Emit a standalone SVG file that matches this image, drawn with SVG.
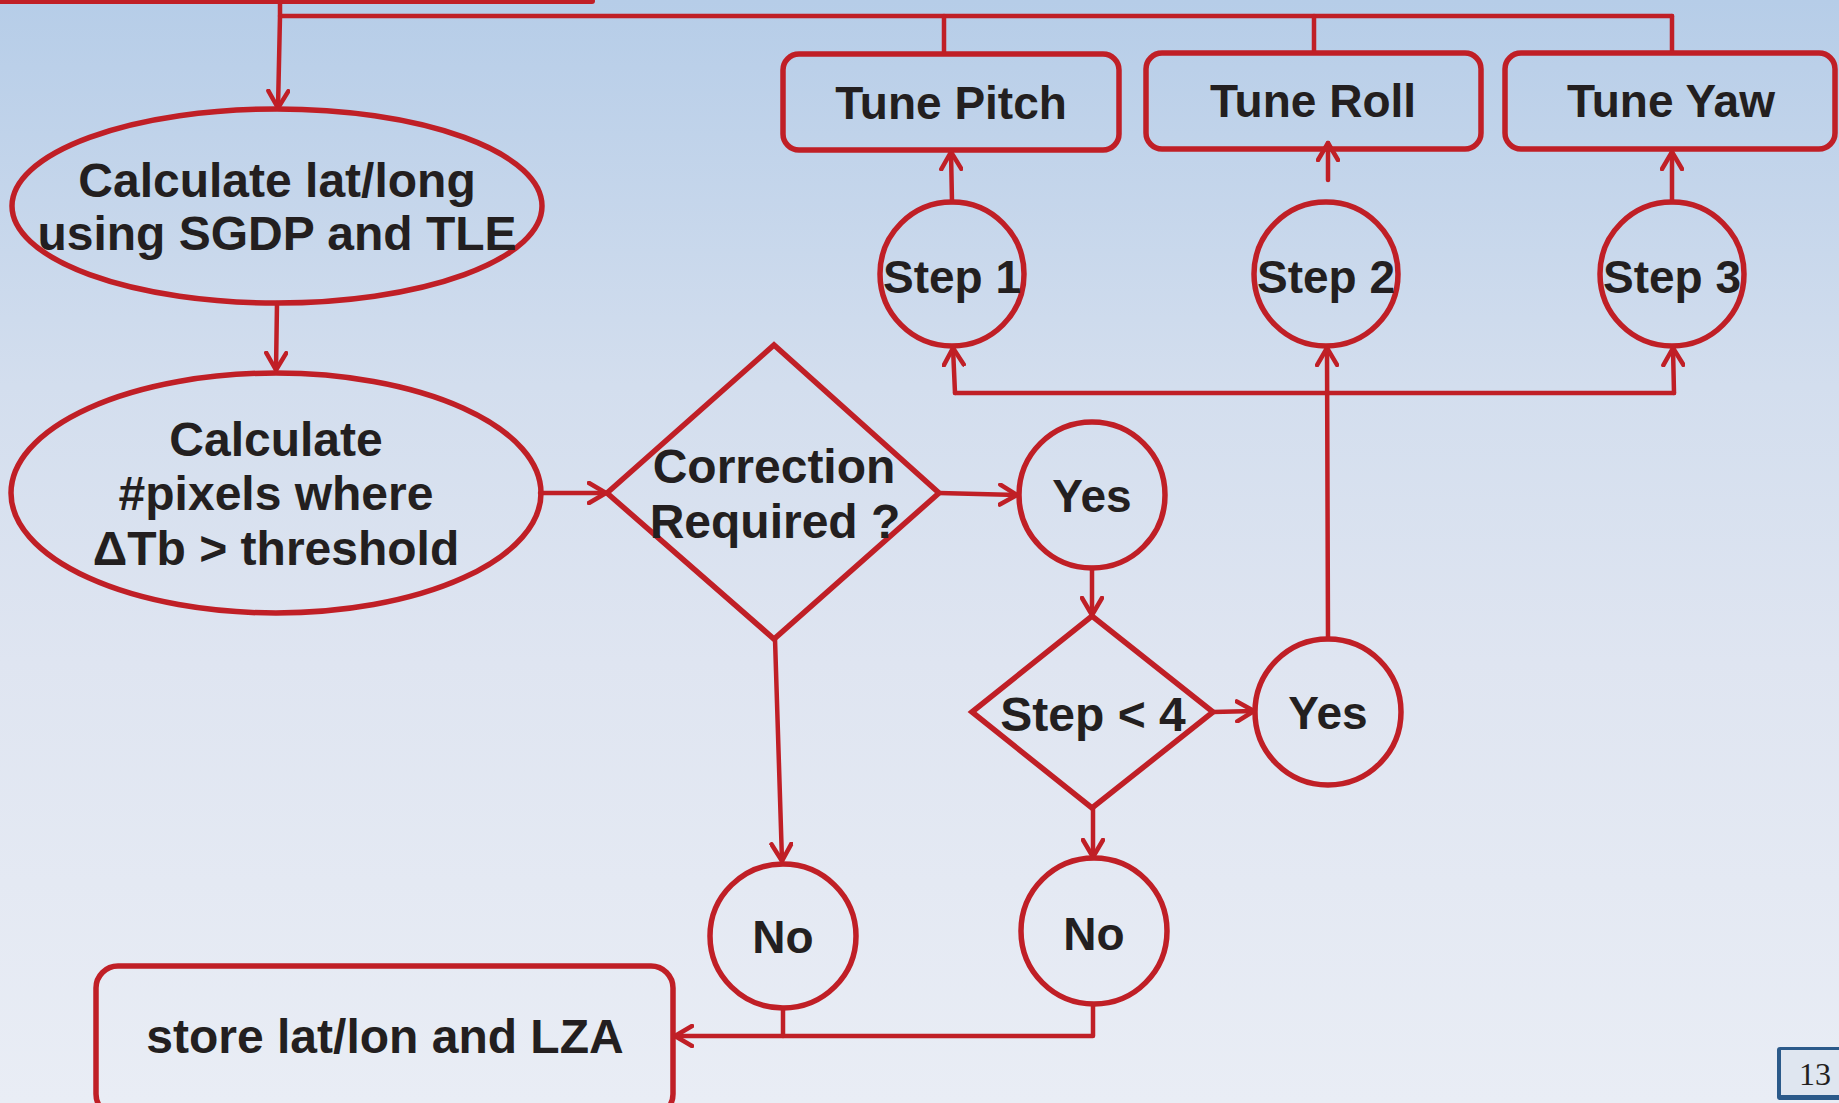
<svg xmlns="http://www.w3.org/2000/svg" width="1839" height="1103" viewBox="0 0 1839 1103">
  <defs>
    <linearGradient id="bg" x1="0" y1="0" x2="0" y2="1">
      <stop offset="0" stop-color="#b6cde8"/>
      <stop offset="0.35" stop-color="#d3deee"/>
      <stop offset="0.6" stop-color="#dfe5f1"/>
      <stop offset="1" stop-color="#e9edf5"/>
    </linearGradient>
    <marker id="arrow" viewBox="0 0 22 24" refX="19" refY="12" markerWidth="22" markerHeight="24" markerUnits="userSpaceOnUse" orient="auto">
      <path d="M2,2 L19,12 L2,22" fill="none" stroke="#c01f26" stroke-width="4.5" stroke-linecap="round" stroke-linejoin="round"/>
    </marker>
    <style>
      .shape { fill: none; stroke: #c01f26; stroke-width: 5.5; }
      .wire { fill: none; stroke: #c01f26; stroke-width: 4.5; stroke-linecap: round; stroke-linejoin: round; }
      .arr { marker-end: url(#arrow); }
      .lbl { font-family: "Liberation Sans", Arial, sans-serif; font-weight: bold; fill: #231f20; text-anchor: middle; }
      .big { font-size: 48px; }
      .small { font-size: 46px; }
    </style>
  </defs>

  <!-- background -->
  <rect x="0" y="0" width="1839" height="1103" fill="url(#bg)"/>

  <!-- connectors -->
  <g id="connectors">
    <!-- feed from above -->
    <line x1="0" y1="1" x2="592" y2="1" stroke="#c01f26" stroke-width="6" stroke-linecap="round"/>
    <path class="wire" d="M280,0 L280,16 L1672,16"/>
    <path class="wire arr" d="M280,16 L278,108"/>
    <line class="wire" x1="944" y1="16" x2="944" y2="53"/>
    <line class="wire" x1="1314" y1="16" x2="1314" y2="52"/>
    <line class="wire" x1="1672" y1="16" x2="1672" y2="52"/>

    <!-- main chain -->
    <path class="wire arr" d="M277,303 L276,370"/>
    <path class="wire arr" d="M540,493 L606,493"/>
    <path class="wire arr" d="M939,493 L1017,495"/>
    <path class="wire arr" d="M1092,568 L1092,615"/>
    <path class="wire arr" d="M1213,712 L1254,711"/>
    <path class="wire arr" d="M775,639 L782,861"/>
    <path class="wire arr" d="M1093,808 L1093,857"/>

    <!-- Yes loop back to the steps -->
    <path class="wire arr" d="M1328,639 L1327,348"/>
    <path class="wire" d="M955,393 L1674,393"/>
    <path class="wire arr" d="M955,393 L953,348"/>
    <path class="wire arr" d="M1674,393 L1673,348"/>

    <!-- steps up to tuning boxes -->
    <path class="wire arr" d="M952,202 L951,152"/>
    <path class="wire arr" d="M1328,180 L1328,143"/>
    <path class="wire arr" d="M1672,202 L1672,152"/>

    <!-- No branches to store -->
    <path class="wire" d="M783,1008 L783,1036"/>
    <path class="wire arr" d="M1093,1005 L1093,1036 L675,1036"/>
  </g>

  <!-- nodes -->
  <g id="calc-latlong">
    <ellipse class="shape" cx="277" cy="206" rx="265" ry="97"/>
    <text class="lbl big" x="277" y="197">Calculate lat/long</text>
    <text class="lbl big" x="277" y="250">using SGDP and TLE</text>
  </g>

  <g id="calc-pixels">
    <ellipse class="shape" cx="276" cy="493" rx="265" ry="120"/>
    <text class="lbl big" x="276" y="456">Calculate</text>
    <text class="lbl big" x="276" y="510">#pixels where</text>
    <text class="lbl big" x="276" y="565">ΔTb &gt; threshold</text>
  </g>

  <g id="correction">
    <polygon class="shape" points="607,493 774,345 939,493 774,639"/>
    <text class="lbl big" x="774" y="483">Correction</text>
    <text class="lbl big" x="775" y="538">Required ?</text>
  </g>

  <g id="yes-1">
    <ellipse class="shape" cx="1092" cy="495" rx="73" ry="73"/>
    <text class="lbl small" x="1092" y="512">Yes</text>
  </g>

  <g id="step-check">
    <polygon class="shape" points="972,712 1092,616 1213,712 1092,808"/>
    <text class="lbl big" x="1093" y="731">Step &lt; 4</text>
  </g>

  <g id="yes-2">
    <ellipse class="shape" cx="1328" cy="712" rx="73" ry="73"/>
    <text class="lbl small" x="1328" y="729">Yes</text>
  </g>

  <g id="no-1">
    <ellipse class="shape" cx="783" cy="936" rx="73" ry="72"/>
    <text class="lbl small" x="783" y="953">No</text>
  </g>

  <g id="no-2">
    <ellipse class="shape" cx="1094" cy="931" rx="73" ry="73"/>
    <text class="lbl small" x="1094" y="950">No</text>
  </g>

  <g id="store">
    <rect class="shape" x="96" y="966" width="577" height="150" rx="22"/>
    <text class="lbl big" x="385" y="1053">store lat/lon and LZA</text>
  </g>

  <g id="step-1">
    <ellipse class="shape" cx="952" cy="274" rx="72" ry="72"/>
    <text class="lbl small" x="952" y="293">Step 1</text>
  </g>
  <g id="step-2">
    <ellipse class="shape" cx="1326" cy="274" rx="72" ry="72"/>
    <text class="lbl small" x="1326" y="293">Step 2</text>
  </g>
  <g id="step-3">
    <ellipse class="shape" cx="1672" cy="274" rx="72" ry="72"/>
    <text class="lbl small" x="1672" y="293">Step 3</text>
  </g>

  <g id="tune-pitch">
    <rect class="shape" x="783" y="54" width="336" height="96" rx="16"/>
    <text class="lbl small" x="951" y="119">Tune Pitch</text>
  </g>
  <g id="tune-roll">
    <rect class="shape" x="1146" y="53" width="335" height="96" rx="16"/>
    <text class="lbl small" x="1313" y="117">Tune Roll</text>
  </g>
  <g id="tune-yaw">
    <rect class="shape" x="1505" y="53" width="330" height="96" rx="16"/>
    <text class="lbl small" x="1671" y="117">Tune Yaw</text>
  </g>

  <!-- page number: framed tab with heavier left and bottom edges -->
  <g id="page-number">
    <rect x="1777" y="1047" width="72" height="53" rx="3" fill="#2b5a8a"/>
    <rect x="1781" y="1050" width="68" height="45" fill="#dfe6f0"/>
    <text x="1815" y="1085" font-family="Liberation Serif, 'Times New Roman', serif" font-size="32" fill="#231f20" text-anchor="middle">13</text>
  </g>
</svg>
